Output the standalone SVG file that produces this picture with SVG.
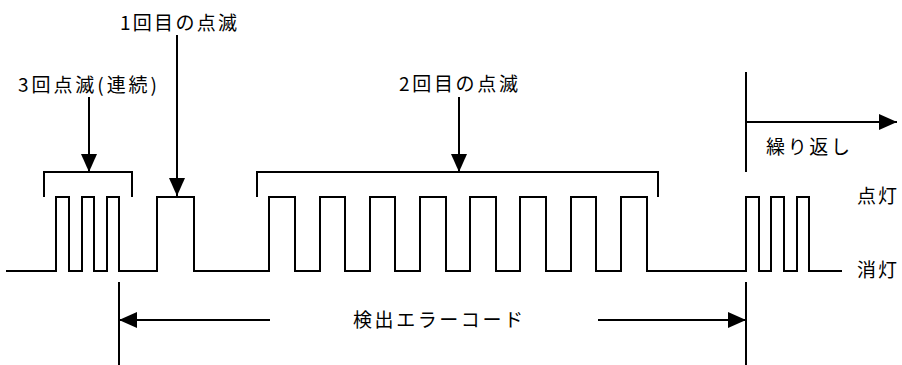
<svg xmlns="http://www.w3.org/2000/svg" width="902" height="365" viewBox="0 0 902 365">
<style>
.ln{fill:none;stroke:#000;stroke-width:2}
.tx{font-family:"Noto Sans CJK JP","Noto Sans",sans-serif;font-size:19px;fill:#000}
.ar{fill:none;stroke:#000;stroke-width:2;marker-end:url(#ah)}
</style>
<defs>
<marker id="ah" markerUnits="userSpaceOnUse" markerWidth="18" markerHeight="16" refX="18" refY="8" orient="auto">
<path d="M0,0 L18,8 L0,16 z" fill="#000"/>
</marker>
</defs>
<g id="waveform">
<path class="ln" d="M6,271 H56 V197 H69 V271 H82 V197 H94 V271 H107 V197 H119 V271 H157 V197 H194 V271 H269 V197 H295 V271 H320 V197 H345 V271 H370 V197 H395 V271 H420 V197 H446 V271 H470 V197 H496 V271 H520 V197 H546 V271 H571 V197 H596 V271 H621 V197 H647 V271 H746 V197 H759 V271 H771 V197 H784 V271 H797 V197 H809 V271 H842"/>
</g>
<g id="bracket1"><path class="ln" d="M44,197 V172 H132 V197"/></g>
<g id="bracket2"><path class="ln" d="M257,197 V172 H658 V197"/></g>
<g id="label-3blink"><text class="tx" x="18" y="92" textLength="139" lengthAdjust="spacing">3回点滅(連続)</text></g>
<g id="label-1st"><text class="tx" x="120" y="30" textLength="117" lengthAdjust="spacing">1回目の点滅</text></g>
<g id="label-2nd"><text class="tx" x="399" y="91" textLength="119" lengthAdjust="spacing">2回目の点滅</text></g>
<g id="label-code"><text class="tx" x="353" y="327" textLength="170" lengthAdjust="spacing">検出エラーコード</text></g>
<g id="label-repeat"><text class="tx" x="766" y="154" textLength="84" lengthAdjust="spacing">繰り返し</text></g>
<g id="label-on"><text class="tx" x="857" y="203" textLength="40" lengthAdjust="spacing">点灯</text></g>
<g id="label-off"><text class="tx" x="857" y="277" textLength="40" lengthAdjust="spacing">消灯</text></g>
<g id="connectors">
<path class="ar" d="M89,97 V172"/>
<path class="ar" d="M177,35 V196"/>
<path class="ar" d="M459,97 V172"/>
<path class="ln" d="M119,282 V365"/>
<path class="ln" d="M746,282 V365"/>
<path class="ln" d="M746,72 V172"/>
<path class="ar" d="M270,320 H119"/>
<path class="ar" d="M598,320 H746"/>
<path class="ar" d="M746,122 H897"/>
</g>
</svg>
